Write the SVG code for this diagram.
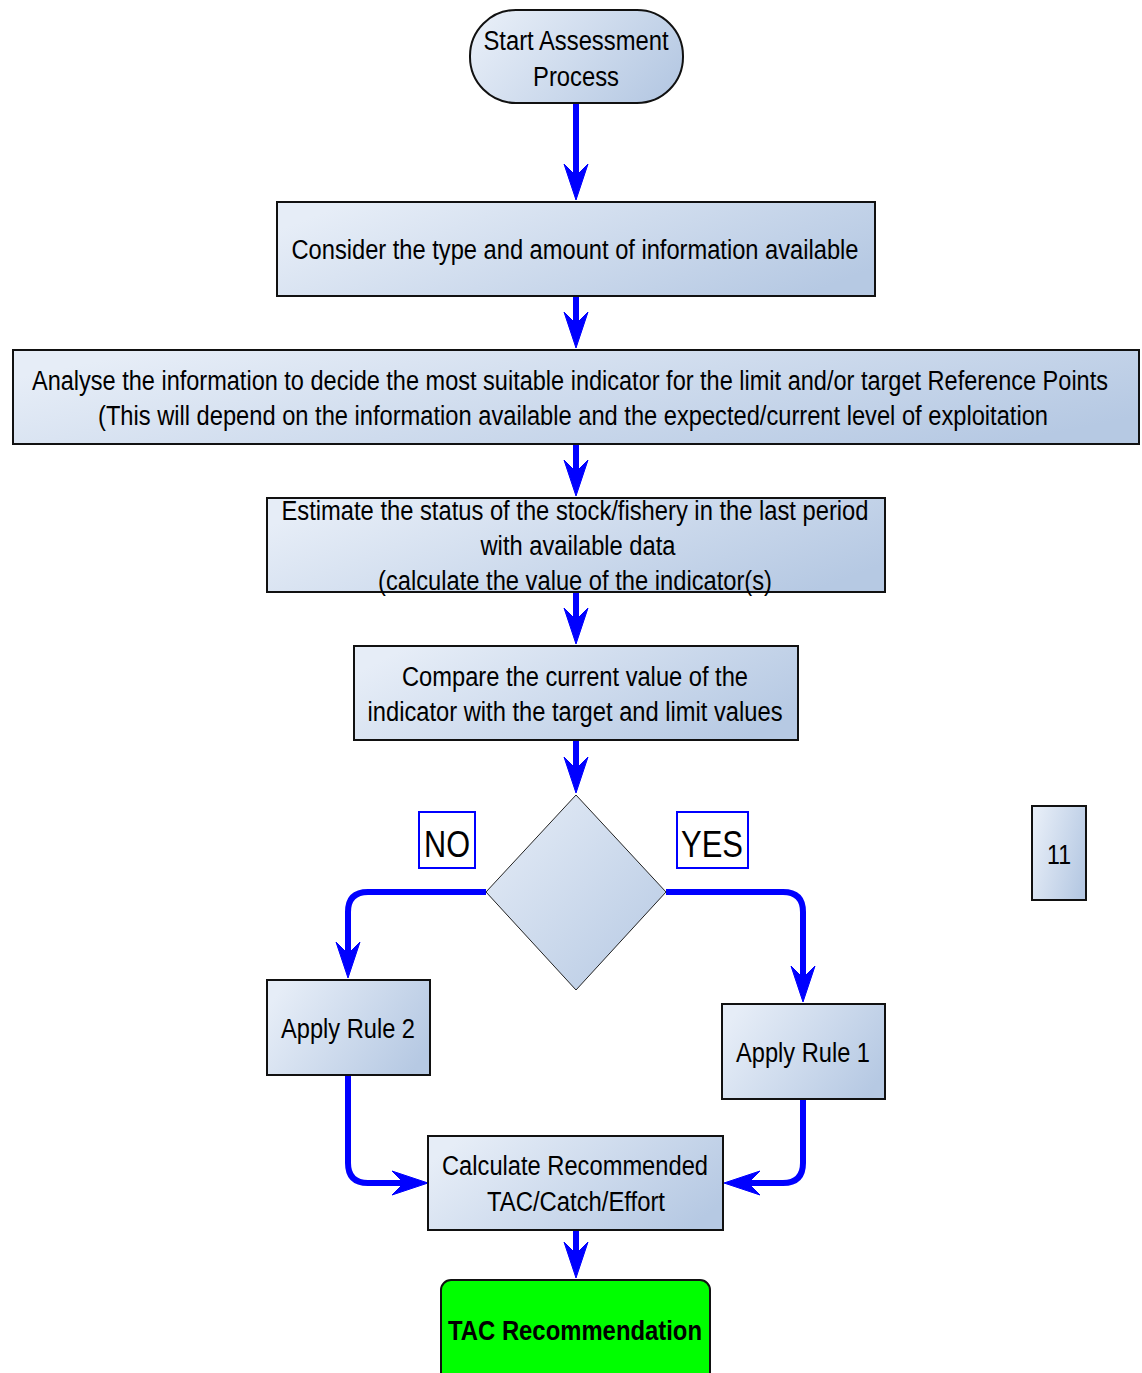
<svg xmlns="http://www.w3.org/2000/svg" width="1142" height="1373" viewBox="0 0 1142 1373">
<defs>
<linearGradient id="g" x1="0" y1="0" x2="1" y2="1">
<stop offset="0" stop-color="#e6edf7"/>
<stop offset="1" stop-color="#b6c9e3"/>
</linearGradient>
<linearGradient id="gh" x1="0" y1="0.3" x2="1" y2="0.7">
<stop offset="0" stop-color="#e6edf7"/>
<stop offset="1" stop-color="#b6c9e3"/>
</linearGradient>
<marker id="ah" viewBox="-37 -13 38 26" refX="-22" refY="0" markerWidth="38" markerHeight="26" markerUnits="userSpaceOnUse" orient="auto">
<path d="M0,0 L-36,-12 L-24,0 L-36,12 Z" fill="#0000ff" stroke="#0000ff" stroke-width="1" stroke-linejoin="miter"/>
</marker>
</defs>
<style>
.box{fill:url(#gh);stroke:#111;stroke-width:2}
.t{font-family:"Liberation Sans",Arial,sans-serif;font-size:27px;fill:#000;text-anchor:middle}
.c{fill:none;stroke:#0000ff;stroke-width:6;marker-end:url(#ah)}
.lbl{fill:#fff;stroke:#0000ff;stroke-width:2}
</style>
<g id="connectors">
<path class="c" d="M576,103 L576,178"/>
<path class="c" d="M576,296 L576,326"/>
<path class="c" d="M576,444 L576,474"/>
<path class="c" d="M576,592 L576,622"/>
<path class="c" d="M576,740 L576,771"/>
<path class="c" d="M486,892 L368,892 Q348,892 348,912 L348,956"/>
<path class="c" d="M666,892 L783,892 Q803,892 803,912 L803,980"/>
<path class="c" d="M348,1075 L348,1163 Q348,1183 368,1183 L406,1183"/>
<path class="c" d="M803,1099 L803,1163 Q803,1183 783,1183 L746,1183"/>
<path class="c" d="M576,1230 L576,1256"/>
</g>
<g id="start">
<rect x="470" y="10" width="213" height="93" rx="46" ry="46" class="box"/>
<text class="t" x="576" y="50" textLength="185" lengthAdjust="spacingAndGlyphs">Start Assessment</text>
<text class="t" x="576" y="86" textLength="86" lengthAdjust="spacingAndGlyphs">Process</text>
</g>
<g id="consider">
<rect x="277" y="202" width="598" height="94" class="box"/>
<text class="t" x="575" y="259" textLength="567" lengthAdjust="spacingAndGlyphs">Consider the type and amount of information available</text>
</g>
<g id="analyse">
<rect x="13" y="350" width="1126" height="94" class="box"/>
<text class="t" x="570" y="390" textLength="1076" lengthAdjust="spacingAndGlyphs">Analyse the information to decide the most suitable indicator for the limit and/or target Reference Points</text>
<text class="t" x="573" y="425" textLength="950" lengthAdjust="spacingAndGlyphs">(This will depend on the information available and the expected/current level of exploitation</text>
</g>
<g id="estimate">
<rect x="267" y="498" width="618" height="94" class="box"/>
<text class="t" x="575" y="520" textLength="587" lengthAdjust="spacingAndGlyphs">Estimate the status of the stock/fishery in the last period</text>
<text class="t" x="578" y="555" textLength="195" lengthAdjust="spacingAndGlyphs">with available data</text>
<text class="t" x="575" y="590" textLength="394" lengthAdjust="spacingAndGlyphs">(calculate the value of the indicator(s)</text>
</g>
<g id="compare">
<rect x="354" y="646" width="444" height="94" class="box"/>
<text class="t" x="575" y="686" textLength="346" lengthAdjust="spacingAndGlyphs">Compare the current value of the</text>
<text class="t" x="575" y="721" textLength="415" lengthAdjust="spacingAndGlyphs">indicator with the target and limit values</text>
</g>
<g id="decision">
<path d="M576,795 L666,892 L576,990 L486,892 Z" fill="url(#g)" stroke="#222" stroke-width="1"/>
</g>
<g id="no-label">
<rect x="419" y="812" width="56" height="56" class="lbl"/>
<text class="t" x="447" y="857" style="font-size:36px" textLength="46" lengthAdjust="spacingAndGlyphs">NO</text>
</g>
<g id="yes-label">
<rect x="677" y="812" width="71" height="56" class="lbl"/>
<text class="t" x="712" y="857" style="font-size:36px" textLength="62" lengthAdjust="spacingAndGlyphs">YES</text>
</g>
<g id="page">
<rect x="1032" y="806" width="54" height="94" class="box"/>
<text class="t" x="1059" y="864" textLength="24" lengthAdjust="spacingAndGlyphs">11</text>
</g>
<g id="rule2">
<rect x="267" y="980" width="163" height="95" class="box"/>
<text class="t" x="348" y="1038" textLength="134" lengthAdjust="spacingAndGlyphs">Apply Rule 2</text>
</g>
<g id="rule1">
<rect x="722" y="1004" width="163" height="95" class="box"/>
<text class="t" x="803" y="1062" textLength="134" lengthAdjust="spacingAndGlyphs">Apply Rule 1</text>
</g>
<g id="calculate">
<rect x="428" y="1136" width="295" height="94" class="box"/>
<text class="t" x="575" y="1175" textLength="266" lengthAdjust="spacingAndGlyphs">Calculate Recommended</text>
<text class="t" x="576" y="1211" textLength="178" lengthAdjust="spacingAndGlyphs">TAC/Catch/Effort</text>
</g>
<g id="tac">
<rect x="441" y="1280" width="269" height="110" rx="10" ry="10" fill="#00ff00" stroke="#111" stroke-width="2"/>
<text class="t" x="575" y="1340" style="font-weight:bold" textLength="254" lengthAdjust="spacingAndGlyphs">TAC Recommendation</text>
</g>
</svg>
